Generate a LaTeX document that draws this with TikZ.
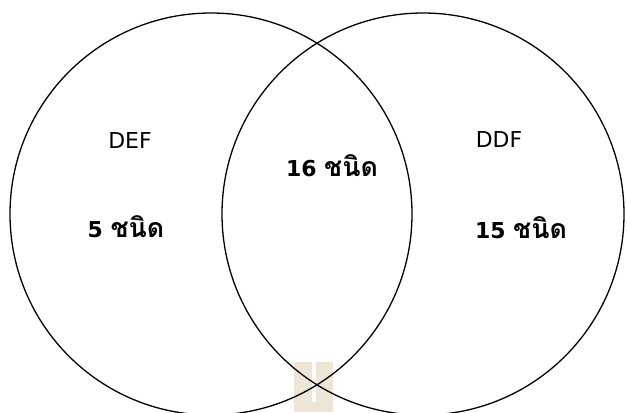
\documentclass[tikz,border=0pt]{standalone}
\usepackage{fontspec}
\setmainfont{DejaVu Sans}
\newfontfamily\thaifont[Script=Thai,Scale=1.22]{Loma}
\begin{document}
\begin{tikzpicture}[x=1bp,y=-1bp,
  setring/.style={circle,draw=black,line width=1.3bp,minimum size=402bp,inner sep=0pt},
  setname/.style={anchor=base,inner sep=0pt,font=\fontsize{22}{26}\selectfont},
  setcount/.style={anchor=base,inner sep=0pt,font=\fontsize{22}{26}\selectfont\bfseries}]
\useasboundingbox (0,0) rectangle (627,412);
\clip (0,0) rectangle (627,412);
% small tan mark at the bottom centre
\fill[fill={rgb,255:red,237;green,229;blue,214}] (294,362) rectangle (333,412);
\fill[white] (312,362) rectangle (316,402);
% the two sets
\node[setring] (def) at (211,214) {};
\node[setring] (ddf) at (423,214) {};
% labels
\node[setname] (defname) at (130,148) {DEF};
\node[setname] (ddfname) at (499,147) {DDF};
\node[setcount] (defonly) at (126,237) {5 {\thaifont\bfseries ชนิด}};
\node[setcount] (both) at (332,176) {16 {\thaifont\bfseries ชนิด}};
\node[setcount] (ddfonly) at (521,238) {15 {\thaifont\bfseries ชนิด}};
\end{tikzpicture}
\end{document}
